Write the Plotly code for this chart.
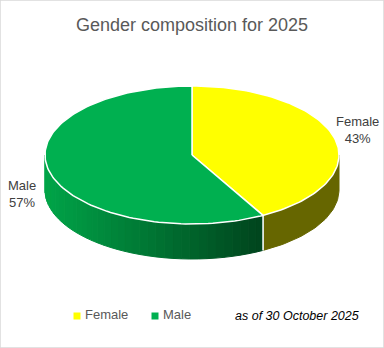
import numpy as np
import plotly.graph_objects as go

# ---- data ----
categories = ["Female", "Male"]
values = [43, 57]
top_colors = ["#FFFF00", "#00B050"]
title_text = "Gender composition for 2025"
note_text = "as of 30 October 2025"

# ---- geometry (pixel space, style only) ----
W, H = 384, 348
cx, cy, rx, ry, depth = 192, 155, 147, 69, 35
persp = 4.8  # degrees of angular distortion mimicking 3D perspective

def pt(theta_deg, dy=0.0):
    th = np.asarray(theta_deg, dtype=float)
    th = th + persp * np.sin(np.radians(2 * th))
    t = np.radians(th)
    return cx + rx * np.sin(t), cy - ry * np.cos(t) + dy

def arc(a, b, dy=0.0, n=None):
    if n is None:
        n = max(4, int(abs(b - a) / 1.5))
    th = np.linspace(a, b, n)
    xs, ys = pt(th, dy)
    return list(xs), list(ys)

def lerp_col(c1, c2, f):
    c1 = [int(c1[i:i + 2], 16) for i in (1, 3, 5)]
    c2 = [int(c2[i:i + 2], 16) for i in (1, 3, 5)]
    c = [round(c1[k] + (c2[k] - c1[k]) * f) for k in range(3)]
    return "#%02x%02x%02x" % tuple(c)

total = float(sum(values))
bounds = []
acc = 0.0
for v in values:
    a = acc / total * 360
    acc += v
    b = acc / total * 360
    bounds.append((a, b))

fig = go.Figure()

# side faces (only front half 90..270 is visible)
side_specs = [("#666600", "#666600"), ("#00A448", "#00461E")]
for (a, b), (cl, cr) in zip(bounds, side_specs):
    lo, hi = max(a, 90), min(b, 270)
    if hi <= lo:
        continue
    nstrips = 40 if cl != cr else 1
    edges = np.linspace(lo, hi, nstrips + 1)
    for i in range(nstrips):
        s0, s1 = edges[i], edges[i + 1]
        if nstrips == 1:
            xt, yt = arc(s0, s1, 0)
            xb, yb = arc(s1, s0, depth)
        else:
            xt, yt = arc(s0, s1, 0, 4)
            xb, yb = arc(s1, s0, depth, 4)
        xm = pt((s0 + s1) / 2)[0]
        f = (xm - (cx - rx)) / (2 * rx * 0.72)
        f = min(max(f, 0), 1)
        col = lerp_col(cl, cr, f) if cl != cr else cl
        fig.add_trace(go.Scatter(
            x=xt + xb + [xt[0]], y=yt + yb + [yt[0]], mode="lines",
            fill="toself", fillcolor=col, line=dict(width=1, color=col),
            hoverinfo="skip", showlegend=False))
    # white divider edges of the side
    for edge in (lo, hi):
        if 90 < edge < 270:
            x0, y0 = pt(edge)
            x1, y1 = pt(edge, depth)
            fig.add_trace(go.Scatter(x=[x0, x1], y=[y0, y1], mode="lines",
                                     line=dict(color="white", width=1.5),
                                     hoverinfo="skip", showlegend=False))

# top faces
for (a, b), col, name in zip(bounds, top_colors, categories):
    xs, ys = arc(a, b)
    fig.add_trace(go.Scatter(
        x=[cx] + xs + [cx], y=[cy] + ys + [cy], mode="lines",
        fill="toself", fillcolor=col, line=dict(color="white", width=1.5),
        hoverinfo="skip", showlegend=False))

# legend (markers + text)
legend_x = [77, 155]
for col, name, lx in zip(top_colors, categories, legend_x):
    fig.add_trace(go.Scatter(
        x=[lx], y=[316], mode="markers",
        marker=dict(symbol="square", size=7, color=col),
        hoverinfo="skip", showlegend=False, cliponaxis=False))
    fig.add_trace(go.Scatter(
        x=[lx + 8], y=[316], mode="text", text=[name],
        textposition="middle right",
        textfont=dict(size=13, color="#595959", family="Liberation Sans"),
        hoverinfo="skip", showlegend=False, cliponaxis=False))

# data labels
label_pos = {"Female": (357, 130), "Male": (22, 194)}
for name, v in zip(categories, values):
    x, y = label_pos[name]
    fig.add_annotation(x=x, y=y, xref="x", yref="y", showarrow=False,
                       text=f"{name}<br>{round(v / total * 100)}%",
                       font=dict(size=13, color="#404040", family="Liberation Sans"),
                       align="center")

fig.add_annotation(x=297, y=316, xref="x", yref="y", showarrow=False,
                   text=f"<i>{note_text}</i>",
                   font=dict(size=12.5, color="#000000", family="Liberation Sans"))

fig.add_shape(type="rect", xref="paper", yref="paper", x0=0, y0=0, x1=1, y1=1,
              line=dict(color="#D9D9D9", width=1.5))

fig.update_layout(
    width=W, height=H, margin=dict(l=0, r=0, t=0, b=0),
    paper_bgcolor="white", plot_bgcolor="white",
    title=dict(text=title_text, x=0.5, xanchor="center", y=1 - 25 / H, yanchor="middle",
               font=dict(size=18, color="#595959", family="Liberation Sans")),
    xaxis=dict(range=[0, W], visible=False, fixedrange=True),
    yaxis=dict(range=[H, 0], visible=False, fixedrange=True),
    showlegend=False,
)

fig.write_html("out.html")
